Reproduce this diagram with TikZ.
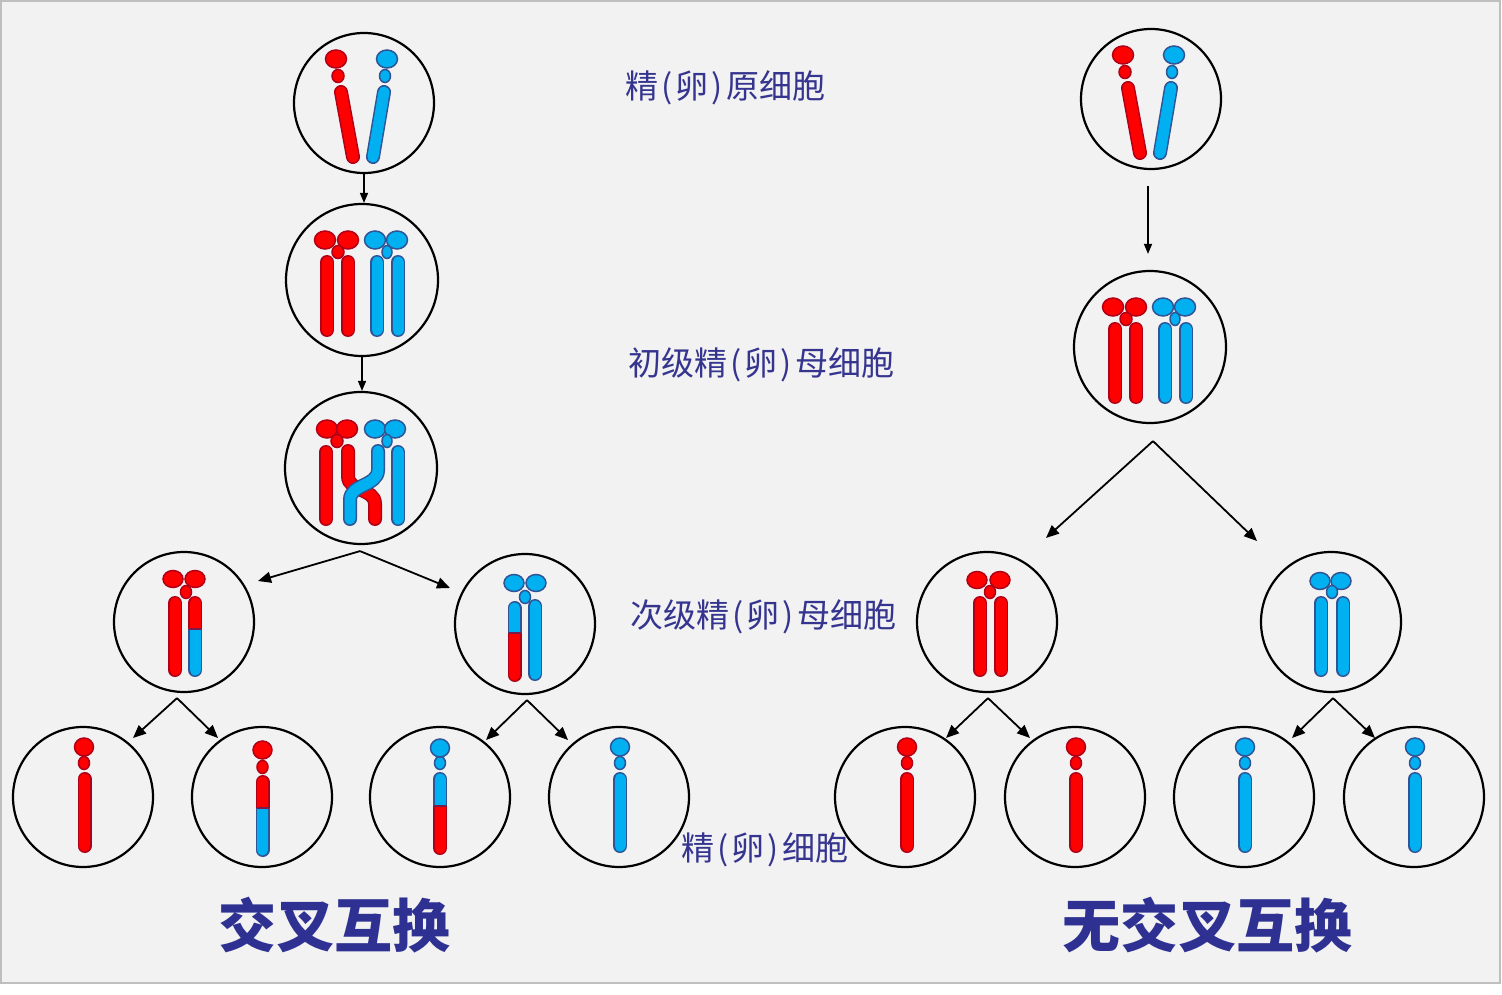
\documentclass[tikz,border=0pt]{standalone}
\usepackage{fontspec}
\newfontfamily\cjk{Noto Sans CJK SC}
\usetikzlibrary{arrows.meta,calc}
\definecolor{bg}{HTML}{F2F2F2}
\definecolor{frame}{HTML}{BFBFBF}
\definecolor{rf}{HTML}{FF0000}
\definecolor{rdk}{HTML}{B00018}
\definecolor{bf}{HTML}{00B0F0}
\definecolor{bdk}{HTML}{2F5597}
\definecolor{labc}{HTML}{35358F}
\definecolor{titc}{HTML}{2E3192}
\definecolor{junc}{HTML}{7A1A4A}
\newcommand\lp{\makebox[17.5pt]{(}}
\newcommand\rp{\makebox[17.5pt]{)}}
% tube helpers
\newcommand\rbar[1]{\draw[rO] #1; \draw[rI] #1;}
\newcommand\bbar[1]{\draw[bO] #1; \draw[bI] #1;}
\newcommand\rell[4]{\filldraw[rH] (#1,#2) ellipse [x radius=#3pt, y radius=#4pt];}
\newcommand\bell[4]{\filldraw[bH] (#1,#2) ellipse [x radius=#3pt, y radius=#4pt];}
% split bar: x, top, bottom, junction, top colour (r/b), bottom colour (r/b)
\newcommand\sbar[6]{%
 \begin{scope}\clip (#1-10,#2-12) rectangle (#1+10,#4);
   \draw[#5O] (#1,#2)--(#1,#3); \draw[#5I] (#1,#2)--(#1,#3);\end{scope}
 \begin{scope}\clip (#1-10,#4) rectangle (#1+10,#3+12);
   \draw[#6O] (#1,#2)--(#1,#3); \draw[#6I] (#1,#2)--(#1,#3);\end{scope}
 \draw[juncl] (#1-6,#4) -- (#1+6,#4);}
% single chromatid pair of spermatogonium
\newcommand\chrV{%
 \rbar{(-23,-11)--(-11,54)}
 \rell{-26}{-27}{6}{6.5}
 \rell{-28}{-44}{10.5}{9}
 \bbar{(20,-11)--(9,54)}
 \bell{21}{-27}{5.5}{6.5}
 \bell{23}{-44}{10.5}{9}}
% tetrad
\newcommand\tetrad{%
 \rbar{(-35,-18)--(-35,50)}
 \rbar{(-14,-18)--(-14,50)}
 \bbar{(15,-18)--(15,50)}
 \bbar{(36,-18)--(36,50)}
 \rell{-37}{-40}{10.5}{9}
 \rell{-14}{-40}{10.5}{9}
 \rell{-24}{-28}{6}{6.5}
 \bell{13}{-40}{10.5}{9}
 \bell{35}{-40}{10.5}{9}
 \bell{25}{-28}{5}{6.5}}
\tikzset{
 rO/.style={draw=rdk, line width=14pt, line cap=round},
 rI/.style={draw=rf, line width=11pt, line cap=round},
 bO/.style={draw=bdk, line width=14pt, line cap=round},
 bI/.style={draw=bf, line width=11pt, line cap=round},
 rH/.style={fill=rf, draw=rdk, line width=1.5pt},
 bH/.style={fill=bf, draw=bdk, line width=1.5pt},
 juncl/.style={draw=junc, line width=1.6pt},
 cell/.style={circle, draw=black, line width=2.2pt, inner sep=0pt, minimum size=#1},
 arr/.style={-{Triangle[length=13pt,width=11pt]}, line width=1.8pt},
 arrs/.style={-{Triangle[length=10pt,width=8pt]}, line width=1.5pt},
 lab/.style={font=\cjk\fontsize{33}{37}\selectfont, text=labc, inner sep=0pt, anchor=west},
 tit/.style={font=\cjk\bfseries\fontsize{58}{64}\selectfont, text=titc, inner sep=0pt},
}
\begin{document}
\begin{tikzpicture}[x=1pt,y=-1pt]
\useasboundingbox (0,0) rectangle (1502,995);
\fill[white] (0,0) rectangle (1502,995);
\filldraw[fill=bg, draw=frame, line width=2pt] (1,1) rectangle (1500,983);

% ---------- cells (left) ----------
\node[cell=140pt] (a1) at (364,103) {};
\node[cell=152pt] (a2) at (362,280) {};
\node[cell=152pt] (a3) at (361,468) {};
\node[cell=140pt] (b1) at (184,622) {};
\node[cell=140pt] (b2) at (525,624) {};
\node[cell=140pt] (c1) at (83,797) {};
\node[cell=140pt] (c2) at (262,797) {};
\node[cell=140pt] (c3) at (440,797) {};
\node[cell=140pt] (c4) at (619,797) {};
% ---------- cells (right) ----------
\node[cell=140pt] (A1) at (1151,99) {};
\node[cell=152pt] (A2) at (1150,347) {};
\node[cell=140pt] (B1) at (987,622) {};
\node[cell=140pt] (B2) at (1331,622) {};
\node[cell=140pt] (C1) at (905,797) {};
\node[cell=140pt] (C2) at (1075,797) {};
\node[cell=140pt] (C3) at (1244,797) {};
\node[cell=140pt] (C4) at (1414,797) {};

% ---------- chromosomes ----------
\begin{scope}[shift={(a1)}] \chrV \end{scope}
\begin{scope}[shift={(A1)}] \chrV \end{scope}
\begin{scope}[shift={(a2)}] \tetrad \end{scope}
\begin{scope}[shift={(A2)}] \tetrad \end{scope}
% crossing over
\begin{scope}[shift={(a3)}]
 \rbar{(-35,-16)--(-35,51)}
 \bbar{(37,-16)--(37,51)}
 \rbar{(-13,-17) -- (-13,8) .. controls (-13,24) and (14,20) .. (14,36) -- (14,51)}
 \bbar{(17,-17) -- (17,2) .. controls (17,18) and (-11,16) .. (-11,32) -- (-11,51)}
 \rell{-34}{-39}{10.5}{9}
 \rell{-14}{-39}{10.5}{9}
 \rell{-24}{-27}{6}{6.5}
 \bell{14}{-39}{10.5}{9}
 \bell{34}{-39}{10.5}{9}
 \bell{26}{-27}{5}{6.5}
\end{scope}
% secondary cells (left)
\begin{scope}[shift={(b1)}]
 \rbar{(-9,-19)--(-9,48)}
 \sbar{11}{-19}{48}{7}{r}{b}
 \rell{-11}{-43}{10}{8.5}
 \rell{11}{-43}{10}{8.5}
 \rell{2}{-30}{5.5}{6.5}
\end{scope}
\begin{scope}[shift={(b2)}]
 \sbar{-10.5}{-16}{51}{9}{b}{r}
 \bbar{(10,-18)--(10,50)}
 \bell{-11}{-41}{10}{8.5}
 \bell{11}{-41}{10}{8.5}
 \bell{0}{-27}{5.5}{6.5}
\end{scope}
% secondary cells (right)
\begin{scope}[shift={(B1)}]
 \rbar{(-7,-19)--(-7,48)}
 \rbar{(14,-19)--(14,48)}
 \rell{-10}{-42}{10}{8.5}
 \rell{13}{-42}{10}{8.5}
 \rell{3}{-30}{5.5}{6.5}
\end{scope}
\begin{scope}[shift={(B2)}]
 \bbar{(-10,-19)--(-10,48)}
 \bbar{(12,-19)--(12,48)}
 \bell{-11}{-41}{10}{8.5}
 \bell{10}{-41}{10}{8.5}
 \bell{1}{-30}{5.5}{6.5}
\end{scope}
% gametes (left)
\begin{scope}[shift={(c1)}]
 \rbar{(1.5,-18)--(1.5,49)}
 \rell{1}{-34}{5.5}{6.5}
 \rell{1}{-50}{9.5}{9}
\end{scope}
\begin{scope}[shift={(c2)}]
 \sbar{0.5}{-15}{53}{11}{r}{b}
 \rell{0.5}{-30}{5.5}{6.5}
 \rell{0.5}{-47}{9.5}{9}
\end{scope}
\begin{scope}[shift={(c3)}]
 \sbar{0}{-18}{51}{9}{b}{r}
 \bell{0}{-34}{5.5}{6.5}
 \bell{0}{-49}{9.5}{9}
\end{scope}
\begin{scope}[shift={(c4)}]
 \bbar{(1,-18)--(1,49)}
 \bell{1}{-34}{5.5}{6.5}
 \bell{1}{-50}{9.5}{9}
\end{scope}
% gametes (right)
\begin{scope}[shift={(C1)}]
 \rbar{(2,-18)--(2,49)}
 \rell{2}{-34}{5.5}{6.5}
 \rell{2}{-50}{9.5}{9}
\end{scope}
\begin{scope}[shift={(C2)}]
 \rbar{(1,-18)--(1,49)}
 \rell{1}{-34}{5.5}{6.5}
 \rell{1}{-50}{9.5}{9}
\end{scope}
\begin{scope}[shift={(C3)}]
 \bbar{(1,-18)--(1,49)}
 \bell{1}{-34}{5.5}{6.5}
 \bell{1}{-50}{9.5}{9}
\end{scope}
\begin{scope}[shift={(C4)}]
 \bbar{(1,-18)--(1,49)}
 \bell{1}{-34}{5.5}{6.5}
 \bell{1}{-50}{9.5}{9}
\end{scope}

% ---------- arrows (left) ----------
\draw[arrs] (a1.south) -- (a1.south |- a2.north);
\draw[arrs] (a2.south) -- (a2.south |- a3.north);
\coordinate (s3) at ($(a3.south)+(-1,6)$);
\coordinate (e31) at ($(b1)+(74,-41)$);
\coordinate (e32) at ($(b2)+(-75,-36)$);
\draw[arr] (s3) -- (e31);
\draw[arr] (s3) -- (e32);
\coordinate (sb1) at ($(b1.south)+(-7,5)$);
\coordinate (ec1) at ($(c1)+(50,-59)$);
\coordinate (ec2) at ($(c2)+(-44,-59)$);
\draw[arr] (sb1) -- (ec1);
\draw[arr] (sb1) -- (ec2);
\coordinate (sb2) at ($(b2.south)+(2,5)$);
\coordinate (ec3) at ($(c3)+(46,-57)$);
\coordinate (ec4) at ($(c4)+(-51,-57)$);
\draw[arr] (sb2) -- (ec3);
\draw[arr] (sb2) -- (ec4);
% ---------- arrows (right) ----------
\coordinate (sA1) at ($(A1.south)+(-3,16)$);
\coordinate (eA2) at ($(A2.north)+(-2,-16)$);
\draw[arrs] (sA1) -- (eA2);
\coordinate (sA2) at ($(A2.south)+(3,17)$);
\coordinate (eB1) at ($(B1)+(59,-84)$);
\coordinate (eB2) at ($(B2)+(-74,-81)$);
\draw[arr] (sA2) -- (eB1);
\draw[arr] (sA2) -- (eB2);
\coordinate (sB1) at ($(B1.south)+(1,5)$);
\coordinate (eC1) at ($(C1)+(41,-59)$);
\coordinate (eC2) at ($(C2)+(-45,-59)$);
\draw[arr] (sB1) -- (eC1);
\draw[arr] (sB1) -- (eC2);
\coordinate (sB2) at ($(B2.south)+(2,5)$);
\coordinate (eC3) at ($(C3)+(48,-59)$);
\coordinate (eC4) at ($(C4)+(-39,-59)$);
\draw[arr] (sB2) -- (eC3);
\draw[arr] (sB2) -- (eC4);

% ---------- labels ----------
\node[lab] (l1) at (625,88) {精\lp 卵\rp 原细胞};
\node[lab] (l2) at (628,365) {初级精\lp 卵\rp 母细胞};
\node[lab] (l3) at (630,617) {次级精\lp 卵\rp 母细胞};
\node[lab] (l4) at (681,850) {精\lp 卵\rp 细胞};
\node[tit] (t1) at (334,925) {交叉互换};
\node[tit] (t2) at (1207,925) {无交叉互换};
\end{tikzpicture}
\end{document}
